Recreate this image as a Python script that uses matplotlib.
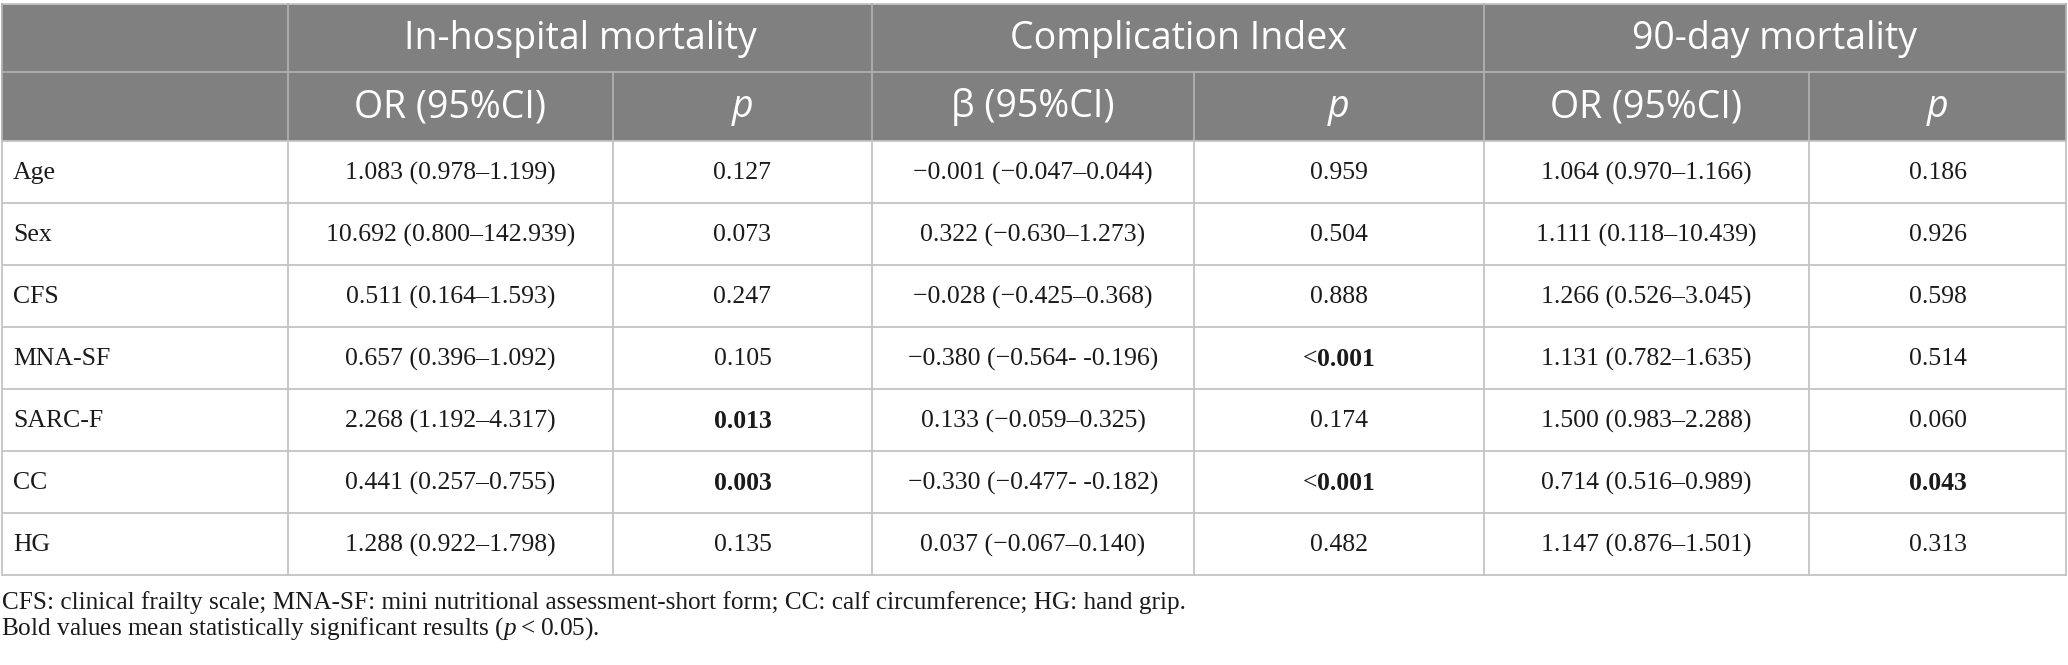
import matplotlib
matplotlib.use("Agg")
import matplotlib.pyplot as plt
from matplotlib.patches import Rectangle

# ---------------- data ----------------
group_headers = ["In-hospital mortality", "Complication Index", "90-day mortality"]
sub_headers = ["OR (95%CI)", "p", "β (95%CI)", "p", "OR (95%CI)", "p"]
row_labels = ["Age", "Sex", "CFS", "MNA-SF", "SARC-F", "CC", "HG"]

inhosp_or = ["1.083 (0.978–1.199)", "10.692 (0.800–142.939)", "0.511 (0.164–1.593)",
             "0.657 (0.396–1.092)", "2.268 (1.192–4.317)", "0.441 (0.257–0.755)",
             "1.288 (0.922–1.798)"]
inhosp_p = ["0.127", "0.073", "0.247", "0.105", "0.013", "0.003", "0.135"]
compl_beta = ["−0.001 (−0.047–0.044)", "0.322 (−0.630–1.273)", "−0.028 (−0.425–0.368)",
              "−0.380 (−0.564- -0.196)", "0.133 (−0.059–0.325)", "−0.330 (−0.477- -0.182)",
              "0.037 (−0.067–0.140)"]
compl_p = ["0.959", "0.504", "0.888", "<0.001", "0.174", "<0.001", "0.482"]
d90_or = ["1.064 (0.970–1.166)", "1.111 (0.118–10.439)", "1.266 (0.526–3.045)",
          "1.131 (0.782–1.635)", "1.500 (0.983–2.288)", "0.714 (0.516–0.989)",
          "1.147 (0.876–1.501)"]
d90_p = ["0.186", "0.926", "0.598", "0.514", "0.060", "0.043", "0.313"]
bold_inhosp_p = [False, False, False, False, True, True, False]
bold_compl_p = [False, False, False, True, False, True, False]
bold_d90_p = [False, False, False, False, False, True, False]

footnote1 = "CFS: clinical frailty scale; MNA-SF: mini nutritional assessment-short form; CC: calf circumference; HG: hand grip."
footnote2 = "Bold values mean statistically significant results ($p$\u2009<\u20090.05)."

# ---------------- layout ----------------
W, H = 2068, 665
col_edges = [2, 288, 613, 872, 1194, 1484, 1809, 2066]
top, h1, h2 = 4, 72, 141
row_h = 62
n_rows = len(row_labels)
bottom = h2 + row_h * n_rows

HEAD_BG = "#808080"
LINE = "#c4c4c4"
HEAD_LINE = "#b0b0b0"
TXT = "#1a1a1a"

plt.rcParams["mathtext.fontset"] = "custom"
plt.rcParams["mathtext.it"] = "Liberation Serif:italic"
plt.rcParams["mathtext.rm"] = "Liberation Serif"

fig = plt.figure(figsize=(W / 100, H / 100), dpi=100)
ax = fig.add_axes([0, 0, 1, 1])
ax.set_xlim(0, W)
ax.set_ylim(H, 0)
ax.axis("off")
renderer = fig.canvas.get_renderer()

ax.add_patch(Rectangle((col_edges[0], top), col_edges[-1] - col_edges[0], h2 - top,
                       facecolor=HEAD_BG, edgecolor="none"))

lw = 1.3
ax.plot([col_edges[0], col_edges[-1]], [top, top], color=LINE, lw=lw)
ax.plot([col_edges[0], col_edges[-1]], [h1, h1], color=HEAD_LINE, lw=lw)
for i in range(n_rows + 1):
    y = h2 + i * row_h
    ax.plot([col_edges[0], col_edges[-1]], [y, y], color=LINE, lw=lw)
for j, x in enumerate(col_edges):
    if j in (0, 1, 3, 5, 7):
        ax.plot([x, x], [top, h2], color=HEAD_LINE, lw=lw)
    else:
        ax.plot([x, x], [h1, h2], color=HEAD_LINE, lw=lw)
    ax.plot([x, x], [h2, bottom], color=LINE, lw=lw)

head_font = dict(family=["Open Sans", "Lato", "DejaVu Sans"], fontweight="normal", color="white")
body_font = dict(family=["Liberation Serif", "DejaVu Serif"], color=TXT)
BODY_FS = 18.5

for g, name in enumerate(group_headers):
    x0, x1 = col_edges[1 + 2 * g], col_edges[3 + 2 * g]
    ax.text((x0 + x1) / 2, (top + h1) / 2 + 1, name, ha="center", va="center",
            fontsize=27, **head_font)
for k, name in enumerate(sub_headers):
    x0, x1 = col_edges[1 + k], col_edges[2 + k]
    style = "italic" if name == "p" else "normal"
    ax.text((x0 + x1) / 2, (h1 + h2) / 2 + 1, name, ha="center", va="center",
            fontsize=27, fontstyle=style, **head_font)


def text_width(s, **kw):
    t = ax.text(0, 0, s, **kw)
    bb = t.get_window_extent(renderer=renderer)
    t.remove()
    return bb.width


columns = [inhosp_or, inhosp_p, compl_beta, compl_p, d90_or, d90_p]
bolds = [None, bold_inhosp_p, None, bold_compl_p, None, bold_d90_p]
for i, lab in enumerate(row_labels):
    yc = h2 + row_h * i + row_h / 2 + 1
    ax.text(col_edges[0] + 11, yc, lab, ha="left", va="center", fontsize=BODY_FS, **body_font)
    for k, col in enumerate(columns):
        x0, x1 = col_edges[1 + k], col_edges[2 + k]
        xc = (x0 + x1) / 2
        s = col[i]
        is_bold = bolds[k] is not None and bolds[k][i]
        if is_bold and s.startswith("<"):
            w1 = text_width("<", fontsize=BODY_FS, **body_font)
            w2 = text_width(s[1:], fontsize=BODY_FS, fontweight="bold", **body_font)
            xs = xc - (w1 + w2) / 2
            ax.text(xs, yc, "<", ha="left", va="center", fontsize=BODY_FS, **body_font)
            ax.text(xs + w1, yc, s[1:], ha="left", va="center", fontsize=BODY_FS,
                    fontweight="bold", **body_font)
        else:
            ax.text(xc, yc, s, ha="center", va="center", fontsize=BODY_FS,
                    fontweight="bold" if is_bold else "normal", **body_font)

ax.text(2, 603, footnote1, ha="left", va="center", fontsize=18.2, **body_font)
ax.text(1, 629, footnote2, ha="left", va="center", fontsize=18.2, **body_font)

fig.savefig("out.png", dpi=100, facecolor="white")
